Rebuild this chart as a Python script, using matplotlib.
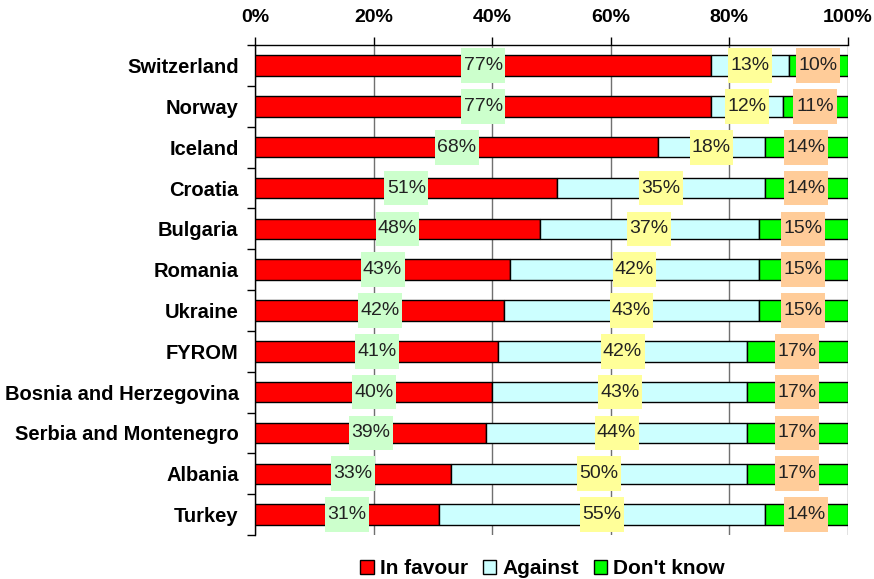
import matplotlib.pyplot as plt
import numpy as np

plt.rcParams['font.family'] = ['Liberation Sans', 'DejaVu Sans']

countries = ['Switzerland', 'Norway', 'Iceland', 'Croatia', 'Bulgaria', 'Romania',
             'Ukraine', 'FYROM', 'Bosnia and Herzegovina', 'Serbia and Montenegro',
             'Albania', 'Turkey']
in_favour = [77, 77, 68, 51, 48, 43, 42, 41, 40, 39, 33, 31]
against = [13, 12, 18, 35, 37, 42, 43, 42, 43, 44, 50, 55]
dont_know = [10, 11, 14, 14, 15, 15, 15, 17, 17, 17, 17, 14]
series_names = ['In favour', 'Against', "Don't know"]

bar_colors = ['#FF0000', '#CCFFFF', '#00FF00']
box_colors = ['#CCFFCC', '#FFFF99', '#FFCC99']
box_w = 7.4   # label box width, in % units
box_h = 0.85

fig = plt.figure(figsize=(8.74, 5.79), dpi=100)
ax = fig.add_axes([0.292, 0.076, 0.678, 0.846])

y = np.arange(len(countries))
left = np.zeros(len(countries))
for vals, name, col, bcol in zip([in_favour, against, dont_know], series_names,
                                 bar_colors, box_colors):
    vals = np.array(vals, dtype=float)
    ax.barh(y, vals, left=left, height=0.5, color=col, edgecolor='black',
            linewidth=1, label=name, zorder=3)
    mids = left + vals / 2
    ax.barh(y, box_w, left=mids - box_w / 2, height=box_h, color=bcol,
            linewidth=0, zorder=4)
    for yi, m, v in zip(y, mids, vals):
        ax.text(m, yi, f'{int(v)}%', ha='center', va='center',
                fontsize=14, color='#222222', zorder=5)
    left += vals

ax.set_xlim(0, 100)
ax.set_ylim(len(countries) - 0.5, -0.5)
ax.xaxis.tick_top()
ax.set_xticks([0, 20, 40, 60, 80, 100])
ax.set_xticklabels(['0%', '20%', '40%', '60%', '80%', '100%'],
                   fontsize=14, fontweight='bold')
ax.tick_params(axis='x', direction='out', length=6, width=1, pad=8)
ax.set_yticks(y)
ax.set_yticklabels(countries, fontsize=14.5, fontweight='bold')
ax.set_yticks(np.arange(len(countries) + 1) - 0.5, minor=True)
ax.tick_params(axis='y', which='major', length=0, pad=12)
ax.tick_params(axis='y', which='minor', direction='out', length=6, width=1)
ax.xaxis.grid(True, color='#707070', linewidth=1, zorder=0)

for s in ['right', 'bottom']:
    ax.spines[s].set_visible(False)
ax.spines['top'].set_linewidth(1)
ax.spines['left'].set_linewidth(1)

leg = ax.legend(loc='upper center', bbox_to_anchor=(0.485, -0.02), ncol=3,
                frameon=False, prop={'weight': 'bold', 'size': 15},
                handlelength=0.65, handleheight=0.65, handletextpad=0.3,
                columnspacing=0.7, borderpad=0.2)

plt.savefig('out.png', dpi=100)
plt.close('all')
